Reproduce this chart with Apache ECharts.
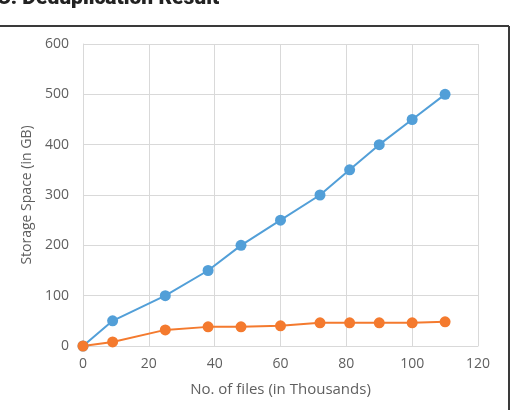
<!DOCTYPE html>
<html>
<head>
<meta charset="utf-8">
<script src="https://cdn.jsdelivr.net/npm/echarts@6/dist/echarts.min.js"></script>
<style>
	html, body { margin: 0; padding: 0; background: #fff; }
	#chart { width: 511px; height: 410px; }
</style>
</head>
<body>
<div id="chart"></div>
<script>
	// files, in thousands
	const fileCounts = [0, 9, 25, 38, 48, 60, 72, 81, 90, 100, 110]
	// storage without dedup (GB)
	const rawStorage = [0, 50, 100, 150, 200, 250, 300, 350, 400, 450, 500]
	// storage after dedup (GB)
	const dedupStorage = [0, 8, 32, 38, 38, 40, 46, 46, 46, 46, 48]

	const xTicks = [0, 20, 40, 60, 80, 100, 120]
	const yTicks = [0, 100, 200, 300, 400, 500, 600]

	const pairs = (xs, ys) => xs.map((x, i) => [x, ys[i]])

	const gridColor = '#d9d9d9'
	const labelColor = '#5f5f5f'
	const font = 'Open Sans'

	let dom = echarts.init(document.getElementById('chart'))

	let option = {
		backgroundColor: '#fff',
		animation: false,
		grid: {
			left: 83,
			right: 33,
			top: 44,
			bottom: 64
		},
		xAxis: {
			type: 'value',
			min: xTicks[0],
			max: xTicks[xTicks.length - 1],
			interval: 20,
			name: 'No. of files (in Thousands)',
			nameLocation: 'middle',
			nameGap: 36,
			nameTextStyle: {
				color: labelColor,
				fontFamily: font,
				fontSize: 15
			},
			axisLine: {
				lineStyle: { color: gridColor }
			},
			axisTick: { show: false },
			axisLabel: {
				color: labelColor,
				fontFamily: font,
				fontSize: 14,
				margin: 11
			},
			splitLine: {
				lineStyle: { color: gridColor }
			}
		},
		yAxis: {
			type: 'value',
			min: yTicks[0],
			max: yTicks[yTicks.length - 1],
			interval: 100,
			name: 'Storage Space (in GB)',
			nameLocation: 'middle',
			nameGap: 49,
			nameTextStyle: {
				color: labelColor,
				fontFamily: font,
				fontSize: 14
			},
			axisLine: {
				show: true,
				lineStyle: { color: gridColor }
			},
			axisTick: { show: false },
			axisLabel: {
				color: labelColor,
				fontFamily: font,
				fontSize: 14,
				margin: 14
			},
			splitLine: {
				lineStyle: { color: gridColor }
			}
		},
		series: [{
			name: 'Without Deduplication',
			type: 'line',
			data: pairs(fileCounts, rawStorage),
			symbol: 'circle',
			symbolSize: 11,
			lineStyle: { color: '#529fd8', width: 2 },
			itemStyle: { color: '#529fd8' }
		}, {
			name: 'With Deduplication',
			type: 'line',
			data: pairs(fileCounts, dedupStorage),
			symbol: 'circle',
			symbolSize: 11,
			lineStyle: { color: '#f47a2e', width: 2 },
			itemStyle: { color: '#f47a2e' }
		}],
		graphic: [{
			type: 'text',
			left: -3,
			top: -12,
			style: {
				text: 'C. Deduplication Result',
				fill: '#222',
				font: '900 21px Roboto'
			}
		}, {
			type: 'line',
			shape: { x1: 0, y1: 26, x2: 509, y2: 26 },
			style: { stroke: '#3a3a3a', lineWidth: 2 }
		}, {
			type: 'line',
			shape: { x1: 509, y1: 26, x2: 509, y2: 410 },
			style: { stroke: '#3a3a3a', lineWidth: 2 }
		}]
	}

	dom.setOption(option)
</script>
</body>
</html>
